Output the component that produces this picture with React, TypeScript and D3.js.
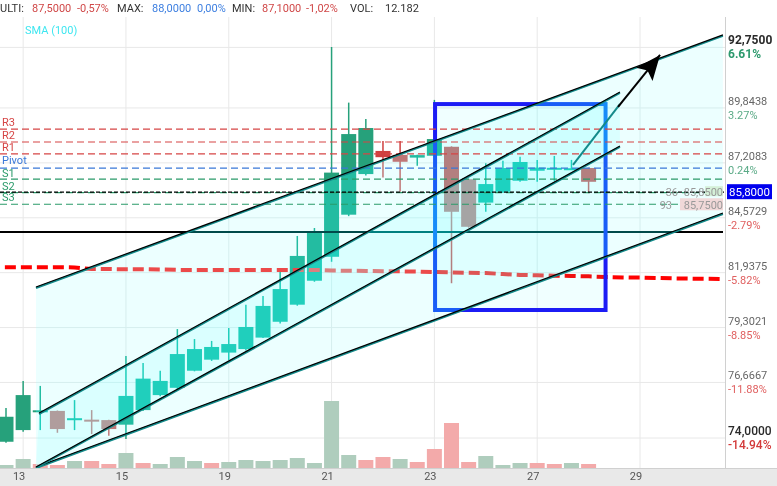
import * as d3 from "d3";

const W = 777;
const H = 486;
const PLOT_LEFT = 0;
const PLOT_RIGHT = 725;
const PLOT_TOP = 17;
const PLOT_BOTTOM = 468;

// candles, one per session slot
const candleOpen = [73.82, 74.38, 75.29, 75.3, 74.91, 74.88, 74.86, 74.64, 75.34, 76.06, 76.41, 77.23, 77.76, 78.1, 78.27, 78.82, 79.58, 80.4, 81.55, 82.7, 84.72, 86.67, 87.78, 87.59, 87.46, 87.55, 87.98, 86.42, 85.3, 85.82, 86.35, 86.83, 86.93, 86.91, 86.96];
const candleHigh = [75.44, 76.74, 76.5, 75.32, 75.82, 75.34, 74.88, 77.94, 77.6, 77.23, 79.23, 78.75, 78.66, 79.28, 80.4, 80.82, 82.02, 83.7, 84.08, 92.77, 90.1, 89.31, 88.26, 88.26, 87.6, 90.23, 88.0, 86.45, 87.19, 87.31, 87.5, 87.35, 87.54, 87.35, 86.98];
const candleLow = [73.77, 74.3, 74.38, 74.25, 74.38, 74.19, 74.11, 73.95, 75.3, 76.0, 76.35, 77.2, 77.7, 77.74, 78.2, 78.8, 79.5, 80.35, 81.5, 82.46, 84.65, 86.6, 86.5, 85.82, 87.07, 87.5, 81.43, 84.1, 84.86, 85.76, 86.3, 86.3, 86.35, 86.88, 85.75];
const candleClose = [75.02, 76.06, 75.33, 74.43, 74.95, 74.84, 74.43, 76.02, 76.85, 76.74, 78.03, 78.27, 78.37, 78.51, 79.33, 80.34, 81.15, 82.74, 83.84, 86.74, 88.59, 88.88, 87.48, 87.26, 87.58, 88.35, 84.86, 84.14, 86.19, 86.96, 87.25, 86.98, 86.97, 86.95, 86.3];

const volumes = [3, 9, 4, 3, 7, 7, 4, 15, 5, 4, 11, 7, 5, 6, 8, 7, 8, 10, 5, 67, 13, 8, 11, 9, 6, 19, 45, 6, 12, 3, 5, 5, 4, 5, 4];
const volumeUp = [1, 1, 0, 0, 1, 0, 0, 1, 0, 1, 1, 1, 0, 1, 1, 1, 1, 1, 1, 1, 1, 0, 0, 1, 0, 0, 0, 0, 1, 1, 1, 0, 0, 1, 0];

const dayLabels = ["13", "15", "19", "21", "23", "27", "29"];
const dayIndex = [1, 7, 13, 19, 25, 31, 37];

const priceTicks = [92.75, 89.8438, 87.2083, 84.5729, 81.9375, 79.3021, 76.6667, 74.0];
const priceTickPct = ["6.61%", "3.27%", "0.24%", "-2.79%", "-5.82%", "-8.85%", "-11.88%", "-14.94%"];

const pivotNames = ["R3", "R2", "R1", "Pivot", "S1", "S2", "S3"];
const pivotLevels = [88.83, 88.21, 87.64, 86.96, 86.43, 85.78, 85.22];

const lastPrice = 85.8;
const supportLevel = 83.89;

// SMA(100), starting at slot -1
const smaValues = [82.2, 82.2, 82.2, 82.2, 82.2, 82.19, 82.11, 82.11, 82.1, 82.1, 82.09, 82.07, 82.07, 82.07, 82.07, 82.07, 82.07, 82.07, 82.07, 82.07, 82.04, 82.03, 82.02, 82.01, 82.0, 81.99, 81.97, 81.95, 81.93, 81.92, 81.87, 81.83, 81.81, 81.79, 81.78, 81.76, 81.73, 81.71, 81.7, 81.68, 81.66, 81.65, 81.64, 81.63];

// drawn channels: {slot, price}
const channelAUpper = [{ i: 1.75, p: 81.25 }, { i: 41.84, p: 93.35 }];
const channelALower = [{ i: 1.75, p: 72.61 }, { i: 41.84, p: 84.8 }];
const channelBUpper = [{ i: 1.93, p: 75.2 }, { i: 35.83, p: 90.61 }];
const channelBLower = [{ i: 1.75, p: 72.61 }, { i: 35.83, p: 88.02 }];
const tealSegment = [{ i: 33.09, p: 87.11 }, { i: 35.83, p: 90.03 }];
const arrowSegment = [{ i: 35.72, p: 89.89 }, { i: 38.17, p: 92.39 }];
const boxCorners = [{ i: 25.04, p: 90.03 }, { i: 34.99, p: 80.145 }];

const headerTexts = ["ULTI:", "87,5000", "-0,57%", "MAX:", "88,0000", "0,00%", "MIN:", "87,1000", "-1,02%", "VOL:", "12.182"];

const FONT = "Roboto, 'Noto Sans', sans-serif";
const UP = "#26a17b";
const DOWN = "#cf3f3f";

type Pt = { i: number; p: number };

const fmt = (v: number) => v.toFixed(4).replace(".", ",");

export default function App() {
  const x = d3.scaleLinear().domain([0, 37]).range([6, 640]);
  const y = d3.scaleLinear().domain([72.56, 94.21]).range([PLOT_BOTTOM, PLOT_TOP]);
  const vy = d3.scaleLinear().domain([0, 100]).range([PLOT_BOTTOM, PLOT_BOTTOM - 100]);
  const line = d3.line<Pt>().x((d) => x(d.i)).y((d) => y(d.p));
  const band = (up: Pt[], lo: Pt[]) => line([...up, ...lo.slice().reverse()]) + "Z";
  const bodyW = 15;

  const smaLine = d3
    .line<number>()
    .x((_, k) => x(k - 1))
    .y((d) => y(d));

  const headerX = [0, 32, 77, 117, 152, 197, 232, 262, 306, 350, 385];
  const headerColor = ["#333", "#d04848", "#d04848", "#333", "#3d7fe0", "#3d7fe0", "#333", "#d04848", "#d04848", "#333", "#333"];
  const pivotColor = ["#d64545", "#d64545", "#d64545", "#3a78d8", "#2a9a6a", "#2a9a6a", "#2a9a6a"];
  const pivotLabelOffset = [3, 3, 3, 4.5, 2.5, 3, 3];

  const channelLine = (pts: Pt[], key: string) => (
    <g key={key}>
      <path d={line(pts) || ""} fill="none" stroke="#138a8a" strokeWidth={2} transform="translate(0,1)" />
      <path d={line(pts) || ""} fill="none" stroke="#000" strokeWidth={1.2} />
    </g>
  );

  const fills = [
    band(channelAUpper, channelALower),
    band(channelBUpper, channelBLower),
  ];

  const bx0 = x(boxCorners[0].i);
  const bx1 = x(boxCorners[1].i);
  const by0 = y(boxCorners[0].p);
  const by1 = y(boxCorners[1].p);

  return (
    <div style={{ position: "fixed", left: 0, top: 0 }}>
      <style>{"body{margin:0}"}</style>
      <svg width={W} height={H} style={{ display: "block", fontFamily: FONT }}>
        <defs>
          <clipPath id="plot">
            <rect x={PLOT_LEFT} y={PLOT_TOP} width={723} height={PLOT_BOTTOM - PLOT_TOP} />
          </clipPath>
          <marker id="ah" markerUnits="userSpaceOnUse" markerWidth={26} markerHeight={22} refX={25} refY={10.5} orient="auto">
            <path d="M0,0 L25,10.5 L0,21 L5,10.5 Z" fill="#000" />
          </marker>
        </defs>
        <rect width={W} height={H} fill="#fff" />

        {/* grid */}
        {priceTicks.map((t, k) => (
          <line key={"hg" + k} x1={PLOT_LEFT} x2={PLOT_RIGHT} y1={y(t)} y2={y(t)} stroke="#e8e8e8" strokeWidth={1} />
        ))}
        {dayIndex.map((d, k) => (
          <line key={"vg" + k} x1={x(d)} x2={x(d)} y1={PLOT_TOP} y2={PLOT_BOTTOM} stroke="#e8e8e8" strokeWidth={1} />
        ))}

        {/* volume */}
        {volumes.map((v, k) => (
          <rect key={"v" + k} x={x(k) - bodyW / 2} y={vy(v)} width={bodyW} height={PLOT_BOTTOM - vy(v)} fill={volumeUp[k] ? "#afcdbd" : "#f3aaaa"} />
        ))}

        {/* candles */}
        {candleOpen.map((o, k) => {
          const c = candleClose[k];
          const col = c >= o ? UP : DOWN;
          const top = y(Math.max(o, c));
          const h = Math.max(2, y(Math.min(o, c)) - top);
          return (
            <g key={"c" + k}>
              <line x1={x(k)} x2={x(k)} y1={y(candleHigh[k])} y2={y(candleLow[k])} stroke={col} strokeWidth={1.5} />
              <rect x={x(k) - bodyW / 2} y={top} width={bodyW} height={h} fill={col} />
            </g>
          );
        })}

        {/* support line and SMA */}
        <line x1={PLOT_LEFT} x2={723} y1={y(supportLevel)} y2={y(supportLevel)} stroke="#000" strokeWidth={2} />
        <path d={smaLine(smaValues) || ""} clipPath="url(#plot)" fill="none" stroke="#ff0000" strokeWidth={4} strokeDasharray="11,5" />

        {/* box */}
        <rect x={bx0} y={by0} width={bx1 - bx0} height={by1 - by0} fill="#00ffff" fillOpacity={0.06} stroke="#1c1cf5" strokeWidth={4} />

        {/* channel fills */}
        {fills.map((d, k) => (
          <g key={"f" + k}>
            <path d={d} fill="rgb(0,60,60)" style={{ mixBlendMode: "screen" }} />
            <path d={d} fill="#00ffff" fillOpacity={0.075} />
          </g>
        ))}

        {/* pivots */}
        {pivotLevels.map((p, k) => (
          <g key={"pv" + k}>
            <line x1={PLOT_LEFT} x2={PLOT_RIGHT} y1={y(p)} y2={y(p)} stroke={pivotColor[k]} strokeWidth={1.2} strokeDasharray="7,4" />
            <text x={2} y={y(p) - pivotLabelOffset[k]} fontSize={11} fill={pivotColor[k]}>{pivotNames[k]}</text>
          </g>
        ))}
        <line x1={PLOT_LEFT} x2={PLOT_RIGHT} y1={y(lastPrice)} y2={y(lastPrice)} stroke="#000" strokeWidth={1.2} strokeDasharray="4,2" />

        {/* overlapping level tags */}
        <rect x={705} y={y(lastPrice) - 6} width={18} height={10} fill="#d4f0d8" />
        <rect x={680} y={y(pivotLevels[6]) - 6} width={43} height={12} fill="#f0d8d8" />
        <text x={678} y={y(lastPrice) + 4} fontSize={11} fill="#999" textAnchor="end">36</text>
        <text x={723} y={y(lastPrice) + 4} fontSize={11} fill="#999" textAnchor="end">85,8500</text>
        <text x={672} y={y(pivotLevels[6]) + 5} fontSize={11} fill="#999" textAnchor="end">93</text>
        <text x={723} y={y(pivotLevels[6]) + 5} fontSize={11} fill="#999" textAnchor="end">85,7500</text>

        {/* channel lines */}
        {channelLine(channelAUpper, "a1")}
        {channelLine(channelALower, "a2")}
        {channelLine(channelBUpper, "b1")}
        {channelLine(channelBLower, "b2")}
        <path d={line(tealSegment) || ""} fill="none" stroke="#138a8a" strokeWidth={2} />
        <path d={line(arrowSegment) || ""} fill="none" stroke="#000" strokeWidth={2} markerEnd="url(#ah)" />

        {/* right axis */}
        <rect x={PLOT_RIGHT + 0.5} y={0} width={W - PLOT_RIGHT} height={PLOT_BOTTOM} fill="#fff" />
        <line x1={PLOT_RIGHT + 0.5} x2={PLOT_RIGHT + 0.5} y1={PLOT_TOP} y2={PLOT_BOTTOM} stroke="#d0d0d0" />
        {priceTicks.map((t, k) => {
          const edge = k === 0 || k === priceTicks.length - 1;
          const neg = priceTickPct[k].startsWith("-");
          return (
            <g key={"yt" + k}>
              <text x={728} y={y(t) - 3} fontSize={edge ? 12 : 11} fontWeight={k === 0 ? 700 : edge ? 500 : 400} fill={edge ? "#2a2a2a" : "#666"}>
                {fmt(t)}
              </text>
              <text x={728} y={y(t) + 11} fontSize={edge ? 12 : 11} fontWeight={k === 0 ? 700 : edge ? 500 : 400} fill={neg ? (edge ? "#d33a3a" : "#e06060") : k === 0 ? "#2e9a6e" : "#5aaa86"}>
                {priceTickPct[k]}
              </text>
            </g>
          );
        })}
        <rect x={727} y={y(lastPrice) - 8} width={45} height={15} fill="#0000ee" />
        <text x={749.5} y={y(lastPrice) + 4} fontSize={11.5} fill="#fff" textAnchor="middle">{fmt(lastPrice)}</text>

        {/* bottom axis */}
        <rect x={0} y={PLOT_BOTTOM} width={W} height={H - PLOT_BOTTOM} fill="#e9e9e9" />
        <line x1={0} x2={W} y1={PLOT_BOTTOM + 0.5} y2={PLOT_BOTTOM + 0.5} stroke="#d0d0d0" />
        {dayIndex.map((d, k) => (
          <text key={"xt" + k} x={x(d) - 4} y={PLOT_BOTTOM + 11.5} fontSize={11} fill="#555" textAnchor="middle">
            {dayLabels[k]}
          </text>
        ))}

        {/* header */}
        {headerTexts.map((t, k) => (
          <text key={"h" + k} x={headerX[k]} y={11.5} fontSize={11} fill={headerColor[k]}>{t}</text>
        ))}
        <text x={25} y={34} fontSize={11} fill="#3ee6f0">SMA (100)</text>
      </svg>
    </div>
  );
}
